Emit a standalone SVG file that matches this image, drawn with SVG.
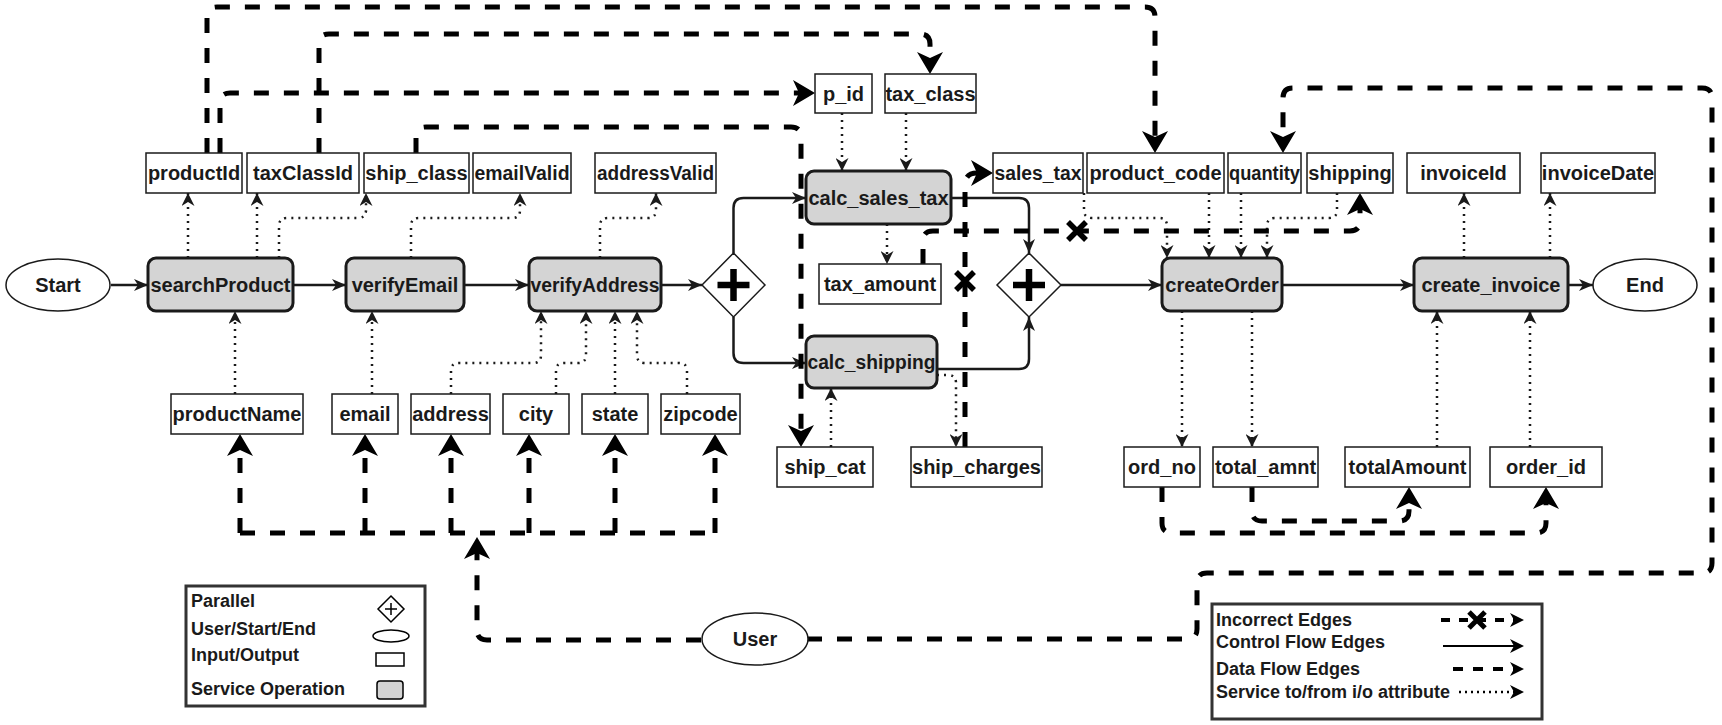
<svg xmlns="http://www.w3.org/2000/svg" width="1722" height="725" viewBox="0 0 1722 725">
<style>
.svc{fill:#d4d4d4;stroke:#1a1a1a;stroke-width:3}
.io{fill:#fff;stroke:#1a1a1a;stroke-width:1.5}
.ell{fill:#fff;stroke:#1a1a1a;stroke-width:1.5}
.dia{fill:#fff;stroke:#1a1a1a;stroke-width:1.5}
.plus{stroke:#000;stroke-width:6.5;fill:none}
.lbl{font-family:"Liberation Sans",Arial,sans-serif;font-weight:bold;font-size:20px;fill:#1a1a1a;text-anchor:middle;dominant-baseline:central}
.leg{font-family:"Liberation Sans",Arial,sans-serif;font-weight:bold;font-size:18px;fill:#1a1a1a}
.ctl{fill:none;stroke:#1a1a1a;stroke-width:2.5;marker-end:url(#aCtl)}
.data{fill:none;stroke:#000;stroke-width:5;stroke-dasharray:15 15;marker-end:url(#aData)}
.dataN{fill:none;stroke:#000;stroke-width:5;stroke-dasharray:15 15}
.dot{fill:none;stroke:#1a1a1a;stroke-width:2.5;stroke-dasharray:2 5;marker-end:url(#aDot)}
.xm{stroke:#000;stroke-width:5.5;fill:none}
</style>
<defs>
<marker id="aCtl" markerUnits="userSpaceOnUse" markerWidth="14" markerHeight="12" refX="14" refY="6" orient="auto"><path d="M0,0 L14,6 L0,12 L4,6 Z" fill="#1a1a1a"/></marker>
<marker id="aDot" markerUnits="userSpaceOnUse" markerWidth="13" markerHeight="13" refX="13" refY="6.5" orient="auto"><path d="M0,0 L13,6.5 L0,13 L4,6.5 Z" fill="#1a1a1a"/></marker>
<marker id="aData" markerUnits="userSpaceOnUse" markerWidth="22" markerHeight="26" refX="10" refY="13" orient="auto"><path d="M0,0 L22,13 L0,26 L6,13 Z" fill="#000"/></marker>
<marker id="aLeg" markerUnits="userSpaceOnUse" markerWidth="14" markerHeight="14" refX="10" refY="7" orient="auto"><path d="M0,0 L14,7 L0,14 L4,7 Z" fill="#000"/></marker>
</defs>
<rect width="1722" height="725" fill="#fff"/>

<g id="connectors">
  <!-- control flow -->
  <path class="ctl" d="M111 285 H148"/>
  <path class="ctl" d="M293 285 H346"/>
  <path class="ctl" d="M464 285 H529"/>
  <path class="ctl" d="M661 285 H702"/>
  <path class="ctl" d="M733.5 253 V208 Q733.5 198 743.5 198 H806"/>
  <path class="ctl" d="M733.5 317 V353 Q733.5 363 743.5 363 H806"/>
  <path class="ctl" d="M951 198 H1019 Q1029 198 1029 208 V253"/>
  <path class="ctl" d="M937 369 H1019 Q1029 369 1029 359 V317"/>
  <path class="ctl" d="M1061 285 H1162"/>
  <path class="ctl" d="M1282 285 H1414"/>
  <path class="ctl" d="M1568 285 H1593"/>

  <!-- dotted service i/o -->
  <path class="dot" d="M188 258 V193"/>
  <path class="dot" d="M257 258 V193"/>
  <path class="dot" d="M279 258 V226 Q279 218 287 218 H358 Q366 218 366 210 V193"/>
  <path class="dot" d="M411 258 V226 Q411 218 419 218 H512 Q520 218 520 210 V193"/>
  <path class="dot" d="M600 258 V226 Q600 218 608 218 H648 Q656 218 656 210 V193"/>
  <path class="dot" d="M235 394 V311"/>
  <path class="dot" d="M372 394 V311"/>
  <path class="dot" d="M451 394 V371 Q451 363 459 363 H533 Q541 363 541 355 V311"/>
  <path class="dot" d="M556 394 V371 Q556 363 564 363 H578 Q586 363 586 355 V311"/>
  <path class="dot" d="M615 394 V311"/>
  <path class="dot" d="M687 394 V371 Q687 363 679 363 H645 Q637 363 637 355 V311"/>
  <path class="dot" d="M842 113 V171"/>
  <path class="dot" d="M906 113 V171"/>
  <path class="dot" d="M887 224 V264"/>
  <path class="dot" d="M831 447 V388"/>
  <path class="dot" d="M937 375 H948 Q956 375 956 383 V447"/>
  <path class="dot" d="M1084 193 V210 Q1084 218 1092 218 H1159 Q1167 218 1167 226 V258"/>
  <path class="dot" d="M1209 193 V258"/>
  <path class="dot" d="M1241 193 V258"/>
  <path class="dot" d="M1337 193 V210 Q1337 218 1329 218 H1275 Q1267 218 1267 226 V258"/>
  <path class="dot" d="M1182 311 V447"/>
  <path class="dot" d="M1252 311 V447"/>
  <path class="dot" d="M1437 447 V311"/>
  <path class="dot" d="M1530 447 V311"/>
  <path class="dot" d="M1464 258 V193"/>
  <path class="dot" d="M1550 258 V193"/>

  <!-- data flow -->
  <path class="data" d="M207 153 V17 Q207 7 217 7 H1145 Q1155 7 1155 17 V141"/>
  <path class="data" d="M319 153 V44 Q319 34 329 34 H920 Q930 34 930 44 V62"/>
  <path class="data" d="M220 153 V103 Q220 93 230 93 H803"/>
  <path class="data" d="M416 153 V137 Q416 127 426 127 H791 Q801 127 801 137 V435"/>
  <path class="data" d="M807 639 H1187 Q1197 639 1197 629 V583 Q1197 573 1207 573 H1702 Q1712 573 1712 563 V98 Q1712 88 1702 88 H1293 Q1283 88 1283 98 V141"/>
  <path class="data" d="M701 640 H487 Q477 640 477 630 V549"/>
  <path class="dataN" d="M240 533 H715"/>
  <path class="data" d="M240 533 V446"/>
  <path class="data" d="M365 533 V446"/>
  <path class="data" d="M451 533 V446"/>
  <path class="data" d="M529 533 V446"/>
  <path class="data" d="M615 533 V446"/>
  <path class="data" d="M715 533 V446"/>
  <path class="data" d="M1162 487 V523 Q1162 533 1172 533 H1536 Q1546 533 1546 523 V499"/>
  <path class="data" d="M1252 487 V511 Q1252 521 1262 521 H1399 Q1409 521 1409 511 V499"/>

  <!-- incorrect edges -->
  <path class="data" d="M923 264 V241 Q923 231 933 231 H1350 Q1360 231 1360 221 V205"/>
  <path class="xm" d="M1068 222 L1086 240 M1086 222 L1068 240"/>
  <path class="data" d="M965 447 V185 Q965 173 977 173 H981"/>
  <path class="xm" d="M956 272 L974 290 M974 272 L956 290"/>
</g>

<g id="start"><ellipse class="ell" cx="58" cy="285" rx="52" ry="26"/><text class="lbl" x="58" y="285">Start</text></g>
<g id="end"><ellipse class="ell" cx="1645" cy="285" rx="52" ry="26"/><text class="lbl" x="1645" y="285">End</text></g>
<g id="user"><ellipse class="ell" cx="755" cy="639" rx="53" ry="26"/><text class="lbl" x="755" y="639">User</text></g>

<g id="searchProduct"><rect class="svc" x="148" y="258" width="145" height="53" rx="8"/><text class="lbl" x="220.5" y="284.5">searchProduct</text></g>
<g id="verifyEmail"><rect class="svc" x="346" y="258" width="118" height="53" rx="8"/><text class="lbl" x="405" y="284.5">verifyEmail</text></g>
<g id="verifyAddress"><rect class="svc" x="529" y="258" width="132" height="53" rx="8"/><text class="lbl" x="595" y="284.5" textLength="129" lengthAdjust="spacingAndGlyphs">verifyAddress</text></g>
<g id="calc_sales_tax"><rect class="svc" x="806" y="171" width="145" height="53" rx="8"/><text class="lbl" x="878.5" y="197.5">calc_sales_tax</text></g>
<g id="calc_shipping"><rect class="svc" x="806" y="336" width="131" height="52" rx="8"/><text class="lbl" x="871.5" y="362" textLength="128" lengthAdjust="spacingAndGlyphs">calc_shipping</text></g>
<g id="createOrder"><rect class="svc" x="1162" y="258" width="120" height="53" rx="8"/><text class="lbl" x="1222" y="284.5">createOrder</text></g>
<g id="create_invoice"><rect class="svc" x="1414" y="258" width="154" height="53" rx="8"/><text class="lbl" x="1491" y="284.5">create_invoice</text></g>

<g id="split"><polygon class="dia" points="733.5,253 765,285 733.5,317 702,285"/><path class="plus" d="M717.5 285 H749.5 M733.5 269 V301"/></g>
<g id="join"><polygon class="dia" points="1029,253 1061,285 1029,317 997,285"/><path class="plus" d="M1013 285 H1045 M1029 269 V301"/></g>

<g id="productId"><rect class="io" x="146" y="153" width="96" height="40"/><text class="lbl" x="194" y="173">productId</text></g>
<g id="taxClassId"><rect class="io" x="247" y="153" width="112" height="40"/><text class="lbl" x="303" y="173">taxClassId</text></g>
<g id="ship_class"><rect class="io" x="364" y="153" width="105" height="40"/><text class="lbl" x="416.5" y="173">ship_class</text></g>
<g id="emailValid"><rect class="io" x="473" y="153" width="98" height="40"/><text class="lbl" x="522" y="173" textLength="95" lengthAdjust="spacingAndGlyphs">emailValid</text></g>
<g id="addressValid"><rect class="io" x="595" y="153" width="121" height="40"/><text class="lbl" x="655.5" y="173" textLength="117" lengthAdjust="spacingAndGlyphs">addressValid</text></g>
<g id="p_id"><rect class="io" x="815" y="74" width="57" height="39"/><text class="lbl" x="843.5" y="93.5">p_id</text></g>
<g id="tax_class"><rect class="io" x="885" y="74" width="91" height="39"/><text class="lbl" x="930.5" y="93.5">tax_class</text></g>
<g id="sales_tax"><rect class="io" x="993" y="153" width="90" height="40"/><text class="lbl" x="1038" y="173" textLength="87" lengthAdjust="spacingAndGlyphs">sales_tax</text></g>
<g id="product_code"><rect class="io" x="1087" y="153" width="137" height="40"/><text class="lbl" x="1155.5" y="173">product_code</text></g>
<g id="quantity"><rect class="io" x="1228" y="153" width="73" height="40"/><text class="lbl" x="1264.5" y="173" textLength="71" lengthAdjust="spacingAndGlyphs">quantity</text></g>
<g id="shipping"><rect class="io" x="1307" y="153" width="86" height="40"/><text class="lbl" x="1350" y="173">shipping</text></g>
<g id="invoiceId"><rect class="io" x="1407" y="153" width="113" height="40"/><text class="lbl" x="1463.5" y="173">invoiceId</text></g>
<g id="invoiceDate"><rect class="io" x="1541" y="153" width="114" height="40"/><text class="lbl" x="1598" y="173">invoiceDate</text></g>
<g id="tax_amount"><rect class="io" x="819" y="264" width="122" height="40"/><text class="lbl" x="880" y="284">tax_amount</text></g>
<g id="productName"><rect class="io" x="171" y="394" width="132" height="40"/><text class="lbl" x="237" y="414">productName</text></g>
<g id="email"><rect class="io" x="332" y="394" width="66" height="40"/><text class="lbl" x="365" y="414">email</text></g>
<g id="address"><rect class="io" x="411" y="394" width="79" height="40"/><text class="lbl" x="450.5" y="414">address</text></g>
<g id="city"><rect class="io" x="503" y="394" width="66" height="40"/><text class="lbl" x="536" y="414">city</text></g>
<g id="state"><rect class="io" x="582" y="394" width="66" height="40"/><text class="lbl" x="615" y="414">state</text></g>
<g id="zipcode"><rect class="io" x="661" y="394" width="79" height="40"/><text class="lbl" x="700.5" y="414">zipcode</text></g>
<g id="ship_cat"><rect class="io" x="777" y="447" width="96" height="40"/><text class="lbl" x="825" y="467">ship_cat</text></g>
<g id="ship_charges"><rect class="io" x="911" y="447" width="131" height="40"/><text class="lbl" x="976.5" y="467">ship_charges</text></g>
<g id="ord_no"><rect class="io" x="1124" y="447" width="76" height="40"/><text class="lbl" x="1162" y="467">ord_no</text></g>
<g id="total_amnt"><rect class="io" x="1213" y="447" width="105" height="40"/><text class="lbl" x="1265.5" y="467">total_amnt</text></g>
<g id="totalAmount"><rect class="io" x="1345" y="447" width="125" height="40"/><text class="lbl" x="1407.5" y="467">totalAmount</text></g>
<g id="order_id"><rect class="io" x="1490" y="447" width="112" height="40"/><text class="lbl" x="1546" y="467">order_id</text></g>

<g id="legend-shapes">
  <rect x="186" y="586" width="239" height="120" fill="#fff" stroke="#333" stroke-width="3"/>
  <text class="leg" x="191" y="607">Parallel</text>
  <text class="leg" x="191" y="635">User/Start/End</text>
  <text class="leg" x="191" y="661">Input/Output</text>
  <text class="leg" x="191" y="695">Service Operation</text>
  <polygon points="391,596 404,609 391,622 378,609" fill="#fff" stroke="#000" stroke-width="1.5"/>
  <path d="M385 609 H397 M391 603 V615" stroke="#000" stroke-width="1.5"/>
  <ellipse cx="391" cy="636" rx="18" ry="6" fill="#fff" stroke="#000" stroke-width="1.5"/>
  <rect x="376" y="653" width="28" height="13" fill="#fff" stroke="#000" stroke-width="1.5"/>
  <rect x="377" y="681" width="26" height="18" rx="3" fill="#d4d4d4" stroke="#000" stroke-width="1.5"/>
</g>

<g id="legend-edges">
  <rect x="1212" y="604" width="330" height="115" fill="#fff" stroke="#333" stroke-width="3"/>
  <text class="leg" x="1216" y="626">Incorrect Edges</text>
  <text class="leg" x="1216" y="648">Control Flow Edges</text>
  <text class="leg" x="1216" y="675">Data Flow Edges</text>
  <text class="leg" x="1216" y="698">Service to/from i/o attribute</text>
  <path d="M1441 620 H1520" stroke="#000" stroke-width="4" stroke-dasharray="9 9" fill="none" marker-end="url(#aLeg)"/>
  <path d="M1469 612 L1485 628 M1485 612 L1469 628" stroke="#000" stroke-width="5" fill="none"/>
  <path d="M1443 646 H1520" stroke="#000" stroke-width="2" fill="none" marker-end="url(#aLeg)"/>
  <path d="M1453 669 H1520" stroke="#000" stroke-width="4" stroke-dasharray="10 10" fill="none" marker-end="url(#aLeg)"/>
  <path d="M1459 692 H1520" stroke="#000" stroke-width="2.5" stroke-dasharray="2 4" fill="none" marker-end="url(#aLeg)"/>
</g>
</svg>
